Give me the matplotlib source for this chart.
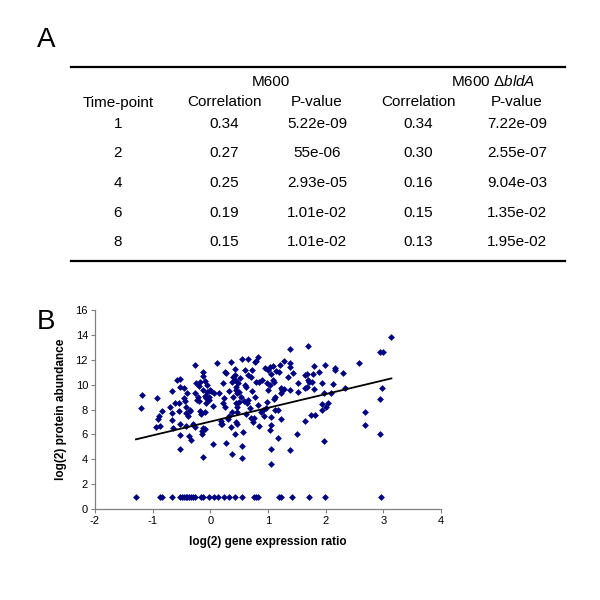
import matplotlib
matplotlib.use("Agg")
import matplotlib.pyplot as plt
from matplotlib.lines import Line2D

plt.rcParams['font.family'] = ['Liberation Sans', 'DejaVu Sans']
plt.rcParams['mathtext.fontset'] = 'custom'
plt.rcParams['mathtext.rm'] = 'Liberation Sans'
plt.rcParams['mathtext.it'] = 'Liberation Sans:italic'
plt.rcParams['axes.unicode_minus'] = False

# ---------------- Table data (panel A) ----------------
group_labels = ["M600", "M600 $\\Delta\\mathit{bldA}$"]
col_headers = ["Time-point", "Correlation", "P-value", "Correlation", "P-value"]
timepoints = ["1", "2", "4", "6", "8"]
corr_m600 = ["0.34", "0.27", "0.25", "0.19", "0.15"]
p_m600 = ["5.22e-09", "55e-06", "2.93e-05", "1.01e-02", "1.01e-02"]
corr_bld = ["0.34", "0.30", "0.16", "0.15", "0.13"]
p_bld = ["7.22e-09", "2.55e-07", "9.04e-03", "1.35e-02", "1.95e-02"]

# ---------------- Scatter data (panel B) ----------------
expr_x = [
    -1.19, -1.21, -0.93, -0.91, -0.95, -0.88, -0.83, -0.89,
    -0.70, -0.67, -0.67, -0.65, -0.62, -0.58, -0.52, -0.66, -0.55, -0.52, -0.52, -0.52, -0.52, -0.55,
    -0.45, -0.45, -0.44, -0.43, -0.42, -0.40, -0.38, -0.36, -0.35, -0.42, -0.37, -0.33, -0.30, -0.27,
    -0.26, -0.27, -0.25, -0.23, -0.22, -0.20, -0.20, -0.18, -0.18, -0.17, -0.15, -0.14, -0.13, -0.12, -0.12,
    -0.10, -0.10, -0.08, -0.07, -0.09, -0.06, -0.05, -0.12, -0.03, -0.02, 0.00, 0.02, 0.05, 0.04, 0.06,
    -0.12, -0.10,
    0.12, 0.15, 0.18, 0.20, 0.18, 0.22, 0.22, 0.24, 0.25, 0.28, 0.26, 0.27, 0.30, 0.32, 0.33, 0.35,
    0.37, 0.37, 0.38, 0.40, 0.40, 0.36,
    0.42, 0.43, 0.43, 0.45, 0.45, 0.46, 0.47, 0.44, 0.46, 0.45, 0.43, 0.47, 0.48, 0.50, 0.50, 0.52,
    0.53, 0.55, 0.55, 0.55, 0.57, 0.58, 0.60, 0.60, 0.62, 0.63, 0.62, 0.65, 0.65, 0.66, 0.68, 0.70, 0.70,
    0.72, 0.73, 0.74, 0.75, 0.77, 0.80, 0.82, 0.80, 0.78, 0.82, 0.85, 0.85, 0.87, 0.90, 0.92, 0.93,
    0.95, 0.97, 0.98, 0.99,
    1.04, 1.09, 1.00, 1.06, 1.14, 1.19, 1.21, 1.28, 1.08, 1.10, 1.04, 1.00, 1.22, 1.24, 1.35, 1.38,
    1.39, 1.43, 1.39, 1.38, 1.52, 1.52, 1.64, 1.68, 1.70, 1.69, 1.71, 1.68, 1.65, 1.77, 1.78, 1.79,
    1.80, 1.88, 1.93, 1.99, 1.97, 1.93, 1.93, 2.00, 2.04, 2.12, 2.10, 2.16, 2.16, 2.30, 2.33, 2.58,
    2.69, 2.69, 2.94, 3.00, 3.13, 2.98, 2.94, 2.94, 1.97, 1.75, 1.82, 1.64, 1.51, 1.39, 1.17, 1.05,
    1.05, 1.03, 1.05, 1.05, 1.23, 1.13, 1.17, 1.10, 1.12, 1.23, 1.27,
    # zero-abundance genes plotted at 1
    -1.29, -0.87, -0.84, -0.66, -0.53, -0.49, -0.46, -0.43, -0.40, -0.37, -0.34, -0.30, -0.26,
    -0.17, -0.13, -0.03, 0.06, 0.14, 0.23, 0.32, 0.43, 0.55, 0.76, 0.80, 0.83, 1.19, 1.23, 1.41,
    1.71, 1.98, 2.96,
]
abund_y = [
    9.15, 8.10, 8.90, 7.20, 6.60, 6.65, 7.90, 7.45,
    8.20, 7.70, 7.15, 6.50, 8.50, 10.35, 10.45, 9.45, 8.55, 9.80, 6.85, 5.95, 4.80, 7.90,
    9.70, 8.90, 8.70, 8.20, 7.70, 9.30, 7.50, 7.85, 8.00, 6.70, 5.85, 5.55, 6.80, 6.60,
    11.55, 9.30, 10.10, 8.80, 9.00, 8.70, 9.90, 10.25, 7.90, 7.60, 6.00, 6.30, 10.70, 11.05, 9.60,
    10.30, 9.10, 8.50, 8.90, 7.80, 9.40, 10.00, 4.15, 9.00, 8.80, 9.60, 9.50, 8.30, 5.25, 9.30,
    6.50, 6.40,
    11.70, 9.30, 7.10, 6.80, 6.85, 10.10, 8.50, 8.90, 11.00, 10.95, 8.20, 5.30, 7.20, 9.50, 7.50, 11.80,
    10.20, 4.45, 7.80, 10.60, 9.00, 6.60,
    11.25, 10.80, 10.40, 9.80, 9.60, 9.30, 8.20, 8.50, 7.80, 7.00, 6.00, 6.80, 10.10, 9.40, 8.60, 10.50,
    9.00, 12.05, 5.10, 4.10, 6.20, 8.70, 11.20, 10.00, 9.80, 8.50, 7.60, 12.05, 10.80, 8.80, 8.10, 10.60, 7.30,
    11.20, 9.50, 7.00, 7.30, 11.80, 11.90, 12.20, 10.20, 9.00, 8.40, 10.20, 6.70, 7.80, 10.40, 8.00, 7.50,
    11.30, 8.10, 10.10, 8.60,
    11.44, 11.50, 11.20, 10.86, 11.10, 11.00, 11.60, 11.87, 10.40, 10.20, 9.97, 9.60, 9.70, 9.57, 10.60, 11.70,
    11.45, 10.96, 12.83, 9.57, 10.16, 9.44, 10.75, 10.86, 13.13, 10.37, 10.24, 9.84, 9.70, 10.24, 10.86, 11.52,
    9.63, 11.04, 10.10, 11.55, 9.30, 8.42, 7.97, 8.18, 8.56, 10.03, 9.36, 11.36, 11.18, 10.96, 9.70, 11.71,
    7.83, 6.76, 12.60, 12.60, 13.80, 9.70, 8.82, 6.04, 5.43, 7.57, 7.54, 7.06, 6.04, 4.76, 5.70, 4.84,
    3.64, 6.36, 6.76, 7.43, 7.22, 7.97, 7.97, 8.82, 8.98, 9.30, 9.65,
    1, 1, 1, 1, 1, 1, 1, 1, 1, 1, 1, 1, 1,
    1, 1, 1, 1, 1, 1, 1, 1, 1, 1, 1, 1, 1, 1, 1,
    1, 1, 1,
]

# linear trend line endpoints
trend_x = [-1.29, 3.14]
trend_y = [5.60, 10.50]

x_ticks = [-2, -1, 0, 1, 2, 3, 4]
y_ticks = [0, 2, 4, 6, 8, 10, 12, 14, 16]

W, H = 600, 600
fig = plt.figure(figsize=(6, 6), dpi=100)


def fx(px):
    return px / W


def fy(py):
    return 1 - py / H


# ---------------- Panel A: table ----------------
fig.text(fx(37), fy(40), "A", fontsize=20, ha="left", va="center")

line_left, line_right = 71, 565
fig.add_artist(Line2D([fx(line_left), fx(line_right)], [fy(67), fy(67)],
                      color="black", lw=1.6, transform=fig.transFigure))
fig.add_artist(Line2D([fx(line_left), fx(line_right)], [fy(261), fy(261)],
                      color="black", lw=1.6, transform=fig.transFigure))

col_x = [118, 224, 317, 418, 517]
fs = 11
fig.text(fx(271), fy(85.5), group_labels[0], fontsize=fs, ha="center", va="baseline")
fig.text(fx(493), fy(85.5), group_labels[1], fontsize=fs, ha="center", va="baseline")
for cx, h in zip(col_x, col_headers):
    fig.text(fx(cx), fy(106.5), h, fontsize=fs, ha="center", va="baseline")

row_y0, row_dy = 127.5, 29.7
for i in range(len(timepoints)):
    ry = row_y0 + i * row_dy
    vals = [timepoints[i], corr_m600[i], p_m600[i], corr_bld[i], p_bld[i]]
    for cx, v in zip(col_x, vals):
        fig.text(fx(cx), fy(ry), v, fontsize=fs, ha="center", va="baseline")

# ---------------- Panel B: scatter ----------------
fig.text(fx(37), fy(322), "B", fontsize=20, ha="left", va="center")

ax = fig.add_axes([fx(95), fy(509), fx(441) - fx(95), fy(310) - fy(509)])
ax.scatter(expr_x, abund_y, marker="D", s=12, color="#000080", linewidths=0, zorder=3)
ax.plot(trend_x, trend_y, color="black", lw=1.3, zorder=4)

ax.set_xlim(-2, 4)
ax.set_ylim(0, 16)
ax.set_xticks(x_ticks)
ax.set_yticks(y_ticks)
ax.tick_params(labelsize=8, length=3, color="#808080", direction="out", pad=2)
for s in ["top", "right"]:
    ax.spines[s].set_visible(False)
for s in ["left", "bottom"]:
    ax.spines[s].set_color("#808080")
    ax.spines[s].set_linewidth(0.9)
ax.set_xlabel("log(2) gene expression ratio", fontsize=8.5, fontweight="bold", labelpad=7)
ax.set_ylabel("log(2) protein abundance", fontsize=8.5, fontweight="bold", labelpad=6)

fig.savefig("out.png", dpi=100)
